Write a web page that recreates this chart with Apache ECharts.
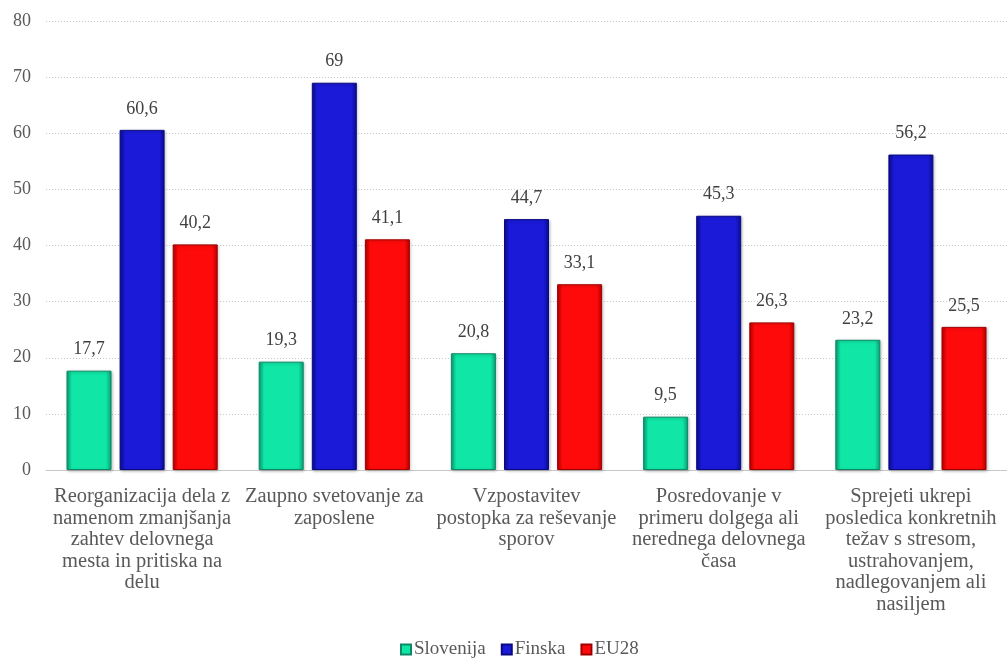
<!DOCTYPE html>
<html>
<head>
<meta charset="utf-8">
<script src="https://cdn.jsdelivr.net/npm/echarts@6/dist/echarts.min.js"></script>
<style>
  html, body { margin: 0; padding: 0; background: #fff; }
  #main { width: 1007px; height: 660px; }
</style>
</head>
<body>
<div id="main"></div>
<script>
var categories = [
  'Reorganizacija dela z\nnamenom zmanjšanja\nzahtev delovnega\nmesta in pritiska na\ndelu',
  'Zaupno svetovanje za\nzaposlene',
  'Vzpostavitev\npostopka za reševanje\nsporov',
  'Posredovanje v\nprimeru dolgega ali\nnerednega delovnega\nčasa',
  'Sprejeti ukrepi\nposledica konkretnih\ntežav s stresom,\nustrahovanjem,\nnadlegovanjem ali\nnasiljem'
]
var slovenija = [17.7, 19.3, 20.8, 9.5, 23.2]
var finska = [60.6, 69, 44.7, 45.3, 56.2]
var eu28 = [40.2, 41.1, 33.1, 26.3, 25.5]

var font = 'Liberation Serif'

function bevel(edge, mid) {
  return new echarts.graphic.LinearGradient(0, 0, 1, 0, [
    { offset: 0, color: edge },
    { offset: 0.12, color: mid },
    { offset: 0.88, color: mid },
    { offset: 1, color: edge }
  ])
}

function barSeries(name, data, edge, mid, border) {
  return {
    name: name,
    type: 'bar',
    data: data,
    barWidth: 45,
    barGap: '18%',
    itemStyle: {
      color: bevel(edge, mid),
      borderColor: border,
      borderWidth: 1,
      shadowColor: 'rgba(0,0,0,0.25)',
      shadowBlur: 3,
      shadowOffsetX: 1,
      shadowOffsetY: 1
    },
    label: {
      show: true,
      position: 'top',
      distance: 12,
      fontFamily: font,
      fontSize: 18,
      color: '#404040',
      formatter: function (p) { return String(p.value).replace('.', ',') }
    }
  }
}

var chart = echarts.init(document.getElementById('main'))
chart.setOption({
  animation: false,
  textStyle: { fontFamily: font },
  grid: { left: 46, right: 0, top: 21, bottom: 190 },
  legend: {
    top: 640,
    left: 400,
    padding: 0,
    itemWidth: 10,
    itemHeight: 10,
    itemGap: 15,
    icon: 'rect',
    textStyle: { fontFamily: font, fontSize: 19, color: '#595959', padding: [0, 0, 0, -2] }
  },
  xAxis: {
    type: 'category',
    data: categories,
    axisTick: { show: false },
    axisLine: { lineStyle: { color: '#c8c8c8', width: 1 } },
    axisLabel: {
      interval: 0,
      fontFamily: font,
      fontSize: 20.5,
      lineHeight: 21.5,
      color: '#595959',
      margin: 16
    }
  },
  yAxis: {
    type: 'value',
    min: 0,
    max: 80,
    interval: 10,
    axisLine: { show: false },
    axisTick: { show: false },
    axisLabel: { fontFamily: font, fontSize: 18, color: '#595959', margin: 15 },
    splitLine: { lineStyle: { color: '#c8c8c8', type: [1, 2] } }
  },
  series: [
    barSeries('Slovenija', slovenija, '#0a9e74', '#10e6a6', '#0c8a66'),
    barSeries('Finska', finska, '#0b0b8e', '#1a1ad8', '#0a0a80'),
    barSeries('EU28', eu28, '#b80000', '#ff0a0a', '#a00000')
  ]
})
</script>
</body>
</html>
